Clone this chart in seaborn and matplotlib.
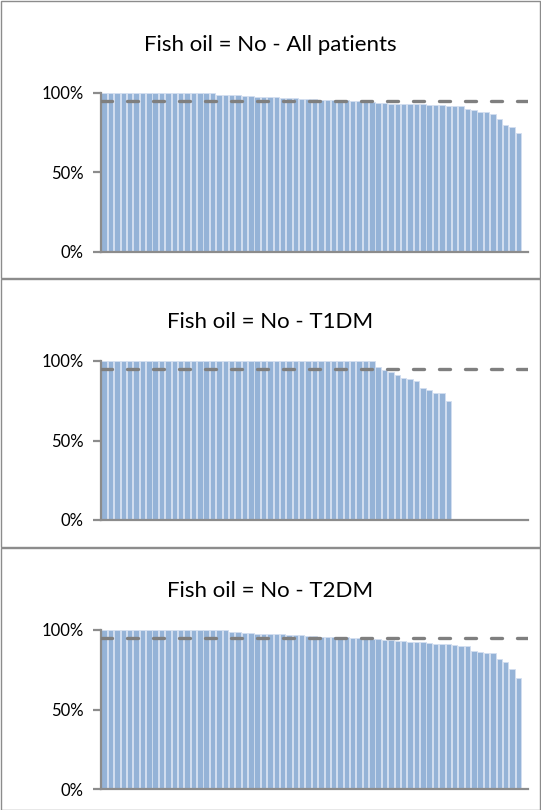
import matplotlib
matplotlib.use("Agg")
import matplotlib.pyplot as plt
import seaborn as sns
import pandas as pd
import numpy as np
from matplotlib.ticker import PercentFormatter
from matplotlib.patches import Rectangle

sns.set_theme(style="white")
plt.rcParams['font.family'] = ['Lato', 'DejaVu Sans']

titles = ["Fish oil = No - All patients", "Fish oil = No - T1DM", "Fish oil = No - T2DM"]

all_patients = [100, 100, 100, 100, 100, 100, 100, 100, 100, 100, 100, 100, 100, 100, 100, 100, 100, 100,
                98.6, 98.6, 98.3, 98.3, 98.0, 97.8, 97.5, 97.5, 97.3, 97.1, 96.9, 96.7, 96.5, 96.3, 96.1, 96.0,
                95.6, 95.5, 95.5, 95.4, 95.2, 95.0, 94.8, 94.6, 94.4, 93.8, 93.5, 93.2, 93.0, 92.9, 92.8, 92.7,
                92.6, 92.5, 92.4, 92.2, 91.7, 91.5, 91.4, 90.0, 89.2, 87.9, 87.8, 86.8, 83.5, 79.7, 78.5, 74.7]

t1dm = [100, 100, 100, 100, 100, 100, 100, 100, 100, 100, 100, 100, 100, 100, 100, 100, 100, 100, 100, 100,
        100, 100, 100, 100, 100, 100, 100, 100, 100, 100, 100, 100, 100, 100, 100, 100, 100, 100, 100, 100,
        100, 100, 100,
        96.2, 94.1, 93.1, 91.2, 89.3, 88.5, 87.2, 82.8, 81.6, 79.7, 79.7, 74.8]

t2dm = [100, 100, 100, 100, 100, 100, 100, 100, 100, 100, 100, 100, 100, 100, 100, 100, 100, 100, 100, 100,
        99.0, 98.5, 98.0, 97.9, 97.5, 97.5, 97.3, 97.3, 97.3, 97.1, 96.9, 96.9, 96.2, 96.0,
        95.6, 95.6, 95.6, 95.4, 95.4, 95.2, 95.0, 94.8, 94.3, 94.1, 93.7, 93.5, 93.2, 93.0, 92.6, 92.4,
        92.2, 92.0, 91.5, 91.1, 90.9, 90.7, 89.9, 89.9, 86.5, 86.3, 85.5, 85.5, 81.5, 79.6, 75.6, 70.0]

target = 95
n_categories = 67
yticks = [0, 50, 100]

W, H = 541, 810
fig = plt.figure(figsize=(W / 100, H / 100), dpi=100)

bar_color = "#95b3d7"
edge_color = "#d3dff0"
axis_color = "#8c8c8c"

panels = [
    (all_patients, 92.7, 252, 45, 0, 278),
    (t1dm, 361, 520, 322, 278, 547),
    (t2dm, 630, 789, 591, 547, 810),
]

for (vals, ytop, ybot, ytitle, ptop, pbot), title in zip(panels, titles):
    # panel border
    fig.patches.append(Rectangle((0.5 / W, 1 - (pbot - 0.5) / H), (W - 1.5) / W, (pbot - ptop - 1) / H,
                                 transform=fig.transFigure, fill=False, edgecolor="#8c8c8c",
                                 linewidth=1.0, zorder=0))
    ax = fig.add_axes([101 / W, 1 - ybot / H, 427 / W, (ybot - ytop) / H])
    df = pd.DataFrame({"patient": np.arange(len(vals)), "value": vals})
    sns.barplot(data=df, x="patient", y="value", ax=ax, native_scale=True, color=bar_color,
                width=0.86, edgecolor=edge_color, linewidth=0.6, saturation=1)
    ax.axhline(target, color="#7f7f7f", lw=2.4, dashes=(3.3, 4.5), dash_capstyle="round", zorder=5)
    ax.set_xlim(-0.5, n_categories - 0.5)
    ax.set_ylim(0, 100)
    ax.set_yticks(yticks)
    ax.yaxis.set_major_formatter(PercentFormatter(100, decimals=0))
    ax.set_xticks([])
    ax.set_xlabel("")
    ax.set_ylabel("")
    for s in ["top", "right"]:
        ax.spines[s].set_visible(False)
    for s in ["left", "bottom"]:
        ax.spines[s].set_color(axis_color)
        ax.spines[s].set_linewidth(1.6)
    ax.tick_params(axis="y", which="major", direction="out", length=5.5, width=1.6,
                   color=axis_color, labelsize=12, labelcolor="#000000", pad=7, left=True)
    ax.grid(False)
    ax.set_facecolor("none")
    fig.text(0.5, 1 - ytitle / H, title, ha="center", va="center", fontsize=16, color="#000000")

fig.savefig("out.png", dpi=100)
